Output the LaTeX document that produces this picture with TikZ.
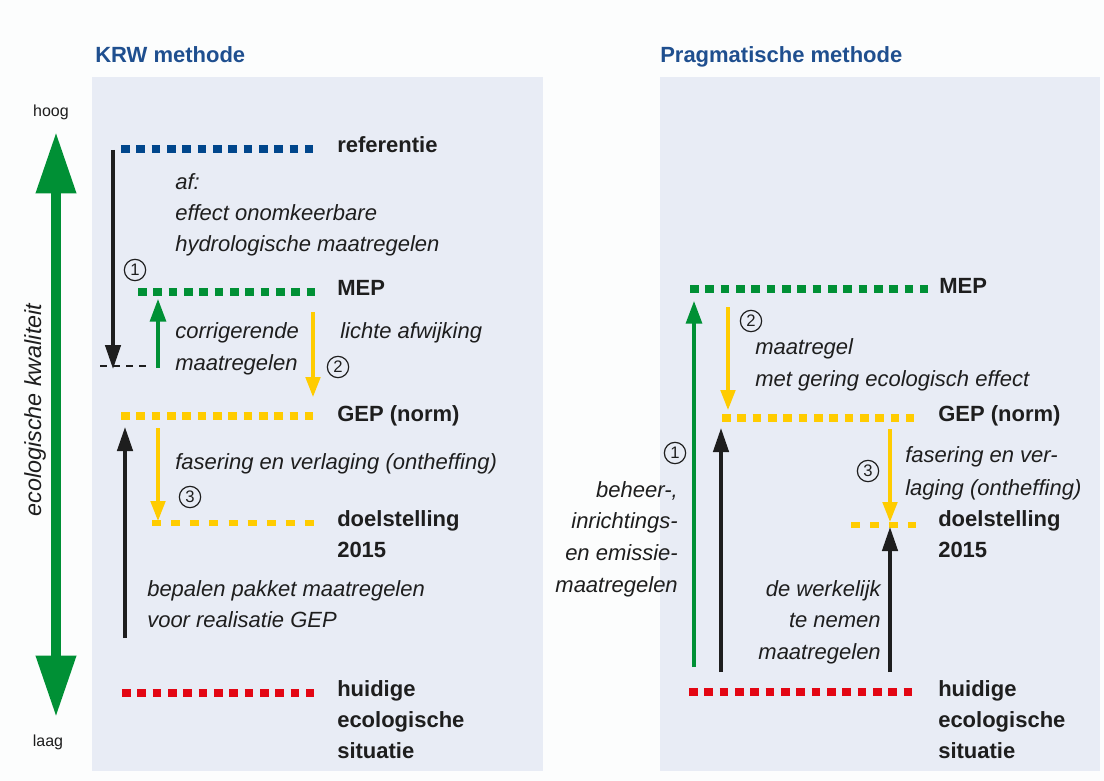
\documentclass[tikz,border=0pt]{standalone}
\usepackage{fontspec}
\setmainfont{Liberation Sans}
\usetikzlibrary{arrows.meta}
\definecolor{panelbg}{HTML}{E8ECF5}
\definecolor{pagebg}{HTML}{FCFDFD}
\definecolor{kblue}{HTML}{00468C}
\definecolor{kgreen}{HTML}{009035}
\definecolor{kyellow}{HTML}{FFCC00}
\definecolor{kred}{HTML}{E30613}
\definecolor{ttlblue}{HTML}{1F4F8F}
\definecolor{ink}{HTML}{1E1E1E}
\begin{document}
\begin{tikzpicture}[x=0.75pt,y=-0.75pt,
  lvl/.style={line width=6.2pt, dash pattern=on 6.4pt off 5.1pt},
  goal/.style={line width=4pt, dash pattern=on 6.75pt off 7.6pt},
  lbl/.style={font=\fontsize{16.5}{23}\selectfont\bfseries, text=ink, anchor=base west, inner sep=0pt, align=left},
  note/.style={font=\fontsize{16.5}{23.25}\selectfont\itshape, text=ink, anchor=base west, inner sep=0pt, align=left},
  noter/.style={note, anchor=base east, align=right},
  ttl/.style={font=\fontsize{16.5}{20}\selectfont\bfseries, text=ttlblue, anchor=base west, inner sep=0pt},
  small/.style={font=\fontsize{12}{14}\selectfont, text=ink, inner sep=0pt},
  num/.style={circle, draw=ink, line width=0.9pt, minimum size=16pt, inner sep=0pt, font=\fontsize{12.5}{12.5}\selectfont, text=ink},
  blk/.style={draw=ink, line width=2.6pt, -{Triangle[length=18pt,width=11.5pt]}},
  yel/.style={draw=kyellow, line width=2.3pt, -{Triangle[length=15pt,width=11pt]}},
  grn/.style={draw=kgreen, line width=2.3pt, -{Triangle[length=17pt,width=12pt]}}
]
\fill[pagebg] (0,0) rectangle (1104,781);
\useasboundingbox (0,0) rectangle (1104,781);
\fill[panelbg] (92,77) rectangle (543,771);
\fill[panelbg] (660,77) rectangle (1100,771);

% titles
\node[ttl] (t1) at (95,63) {KRW methode};
\node[ttl] (t2) at (660,63) {Pragmatische methode};

% axis
\node[small] (hoog) at (51,112) {hoog};
\node[small] (laag) at (48,742) {laag};
\coordinate (axT) at (56,132);
\coordinate (axB) at (56,717);
\draw[kgreen, line width=7.5pt, {Triangle[length=46pt,width=28.5pt]}-{Triangle[length=46pt,width=28.5pt]}] (axT) -- (axB);
\node[rotate=90, font=\fontsize{17.5}{18}\selectfont\itshape, text=ink, inner sep=0pt] (axl) at (35,410) {ecologische kwaliteit};

% ---------- left panel ----------
\coordinate (refA) at (121,149); \coordinate (refB) at (313.1,149);
\coordinate (mepLA) at (138,292); \coordinate (mepLB) at (314.8,292);
\coordinate (gepLA) at (121,416); \coordinate (gepLB) at (313.1,416);
\coordinate (doelLA) at (152,523); \coordinate (doelLB) at (314,523);
\coordinate (hudLA) at (122,693); \coordinate (hudLB) at (314.1,693);
\draw[lvl, kblue] (refA) -- (refB);
\draw[lvl, kgreen] (mepLA) -- (mepLB);
\draw[lvl, kyellow] (gepLA) -- (gepLB);
\draw[goal, kyellow] (doelLA) -- (doelLB);
\draw[lvl, kred] (hudLA) -- (hudLB);

% (base anchor of a multi-line node = baseline of its last line)
\node[lbl] (refL) at (337,153) {referentie};
\node[lbl] (mepL) at (337,296) {MEP};
\node[lbl] (gepL) at (337,421) {GEP (norm)};
\node[lbl] (doelL) at (337,557) {doelstelling\\2015};
\node[lbl] (hudL) at (337,758) {huidige\\ecologische\\situatie};

\node[note] (afL) at (175,252) {af:\\effect onomkeerbare\\hydrologische maatregelen};
\node[note, font=\fontsize{16.5}{24}\selectfont\itshape] (corL) at (175,370) {corrigerende\\maatregelen};
\node[note] (lichtL) at (340,338) {lichte afwijking};
\node[note] (fasL) at (175,469) {fasering en verlaging (ontheffing)};
\node[note] (bepL) at (147,627) {bepalen pakket maatregelen\\voor realisatie GEP};

\node[num] (n1L) at (135,270) {1};
\node[num] (n2L) at (338,367) {2};
\node[num] (n3L) at (190,497) {3};

\coordinate (a1s) at (113,150); \coordinate (a1e) at (113,369);
\coordinate (dsA) at (100,366); \coordinate (dsB) at (147,366);
\coordinate (g1s) at (158,368); \coordinate (g1e) at (158,299);
\coordinate (y2s) at (313,312); \coordinate (y2e) at (313,397);
\coordinate (b2s) at (125,638); \coordinate (b2e) at (125,427);
\coordinate (y3s) at (158,428); \coordinate (y3e) at (158,521);
\draw[ink, line width=2.2pt, dash pattern=on 5.25pt off 4.5pt] (dsA) -- (dsB);
\draw[blk] (a1s) -- (a1e);
\draw[grn] (g1s) -- (g1e);
\draw[yel] (y2s) -- (y2e);
\draw[blk] (b2s) -- (b2e);
\draw[yel] (y3s) -- (y3e);

% ---------- right panel ----------
\coordinate (mepRA) at (690,289); \coordinate (mepRB) at (928,289);
\coordinate (gepRA) at (722,418); \coordinate (gepRB) at (914.1,418);
\coordinate (doelRA) at (851,525); \coordinate (doelRB) at (916,525);
\coordinate (hudRA) at (689,692); \coordinate (hudRB) at (911.7,692);
\draw[lvl, kgreen] (mepRA) -- (mepRB);
\draw[lvl, kyellow] (gepRA) -- (gepRB);
\draw[goal, kyellow] (doelRA) -- (doelRB);
\draw[lvl, kred] (hudRA) -- (hudRB);

\node[lbl] (mepR) at (939,293) {MEP};
\node[lbl] (gepR) at (938,421) {GEP (norm)};
\node[lbl] (doelR) at (938,557) {doelstelling\\2015};
\node[lbl] (hudR) at (938,758) {huidige\\ecologische\\situatie};

\node[note, font=\fontsize{16.5}{24}\selectfont\itshape] (maatR) at (755,386) {maatregel\\met gering ecologisch effect};
\node[note, font=\fontsize{16.5}{24.5}\selectfont\itshape] (fasR) at (905,495.5) {fasering en ver-\\laging (ontheffing)};
\node[noter, font=\fontsize{16.5}{23.75}\selectfont\itshape] (behR) at (678,592) {beheer-,\\inrichtings-\\en emissie-\\maatregelen};
\node[noter, font=\fontsize{16.5}{23.6}\selectfont\itshape] (werkR) at (881,659) {de werkelijk\\te nemen\\maatregelen};

\node[num] (n2R) at (751,321) {2};
\node[num] (n1R) at (675,453) {1};
\node[num] (n3R) at (868,471) {3};

\coordinate (gRs) at (694,667); \coordinate (gRe) at (694,301);
\coordinate (yRs) at (728,307); \coordinate (yRe) at (728,410);
\coordinate (bRs) at (721,672); \coordinate (bRe) at (721,428);
\coordinate (y3Rs) at (890,429); \coordinate (y3Re) at (890,522);
\coordinate (b3Rs) at (890,672); \coordinate (b3Re) at (890,527);
\draw[grn] (gRs) -- (gRe);
\draw[yel] (yRs) -- (yRe);
\draw[blk] (bRs) -- (bRe);
\draw[yel] (y3Rs) -- (y3Re);
\draw[blk] (b3Rs) -- (b3Re);
\end{tikzpicture}
\end{document}
